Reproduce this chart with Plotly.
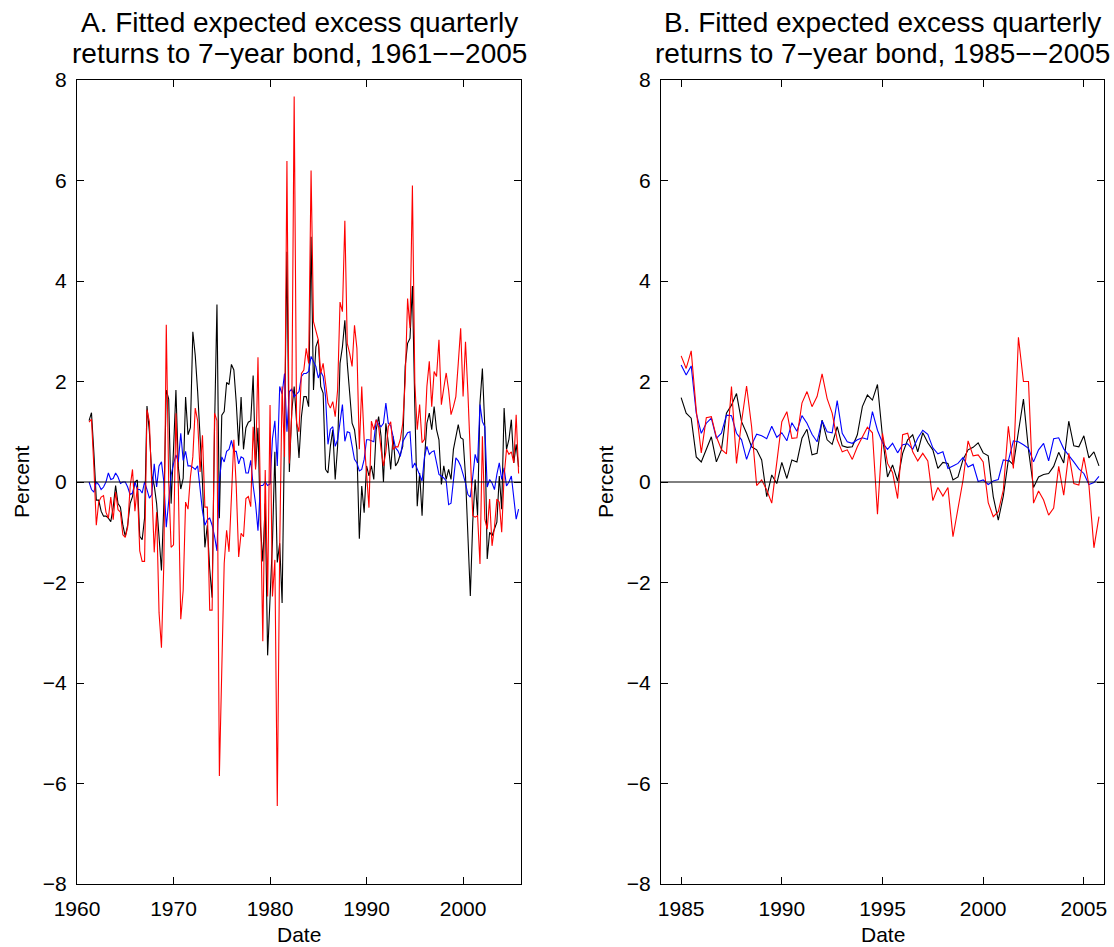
import plotly.graph_objects as go

# ---------------- data ----------------
# Panel A: quarterly, 1961Q2 .. 2005Q4 (decimal year of quarter)
start_a = 1961.25
black_a = [1.22, 1.38, 0.58, -0.36, -0.36, -0.58, -0.68, -0.68, -0.72, -0.79,
           -0.5, -0.07, -0.43, -0.5, -0.86, -1.08, -0.86, -0.43, -0.29, 0.0,
           0.04, -1.08, -1.15, -0.72, 1.51, 1.0, 0.14, -0.07, -0.43, -1.15,
           -1.76, -0.43, 1.83, 1.65, -0.43, 0.65, 1.83, 0.29, -0.14, 0.07,
           1.69, 0.94, 1.08, 2.99, 2.52, 1.8, 0.86, 0.0, -1.3, -0.86,
           -1.73, -2.3, 1.08, 3.53, -0.72, 1.33, 1.4, 1.98, 1.94, 2.34,
           2.23, 1.58, 0.72, 1.69, 0.65, 1.08, 1.19, 1.22, 2.12, 0.29,
           1.08, -0.86, -1.58, -0.43, -3.45, -2.23, -1.19, 0.6, -1.6, -1.22,
           -2.41, 1.0, 4.58, 0.2, 1.4, 1.9, 1.17, 0.48, 1.3, 1.7,
           1.7, 1.5, 4.88, 1.83, 2.69, 2.83, 1.9, 1.77, 0.25, 0.18,
           0.71, 1.04, 0.05, 0.71, 2.36, 2.69, 3.22, 2.36, 1.77, 1.17,
           1.04, 0.65, -1.13, -0.08, -0.61, 0.32, 0.12, 0.32, 0.05, 1.04,
           1.3, 0.91, 0.0, 1.17, 0.78, 0.25, 0.91, 0.32, 0.4, 0.58,
           0.71, 2.3, 2.76, 2.86, 3.9, 1.5, -0.48, 0.18, -0.67, 0.45,
           1.17, 1.37, 1.04, 1.5, 1.04, 0.84, -0.05, 0.32, 0.05, 0.25,
           0.05, 0.65, 0.88, 1.14, 0.88, 0.85, 0.12, -1.13, -2.27, -0.8,
           0.05, -0.67, 1.57, 2.26, 1.1, -1.53, -1.0, -1.07, -0.95, -0.8,
           0.12, -0.54, 1.47, 0.65, 0.85, 1.24, 0.38, 0.75, 0.3]
blue_a = [0.0, -0.15, -0.2, 0.0, -0.05, -0.15, -0.1, 0.0, 0.18, 0.05,
          0.07, 0.18, 0.1, -0.03, 0.0, 0.0, -0.1, -0.25, -0.22, 0.0,
          -0.15, -0.15, -0.22, 0.0, -0.15, -0.32, -0.25, 0.36, -0.1, 0.32,
          0.4, 0.0, -0.9, -0.3, 0.14, 0.36, 0.54, 0.4, 0.97, 0.43,
          0.61, 0.32, 0.32, 0.29, 0.25, 0.32, -0.18, -0.58, -0.86, -0.75,
          -0.72, -0.86, -1.08, -1.37, 0.0, 0.5, 0.4, 0.61, 0.65, 0.83,
          0.61, 0.61, 0.36, 0.5, 0.47, 0.18, 0.18, 0.43, -0.07, -0.43,
          -0.97, -0.07, -0.07, 0.0, -0.07, -0.04, 0.86, 1.22, 0.32, 1.9,
          1.75, 2.16, 1.0, 1.8, 1.85, 1.7, 1.75, 1.8, 2.1, 2.16,
          2.16, 2.2, 2.5, 2.4, 2.3, 2.07, 2.2, 2.1, 1.7, 0.75,
          1.05, 1.1, 0.71, 0.84, 1.2, 1.54, 0.81, 1.0, 0.98, 0.75,
          0.45, 0.38, 0.22, 0.25, 0.45, 0.84, 0.84, 0.82, 0.8, 1.24,
          1.15, 1.1, 1.17, 1.57, 1.17, 1.12, 0.9, 0.68, 0.62, 0.51,
          0.8, 0.9, 0.98, 1.0, 0.28, 0.38, 0.25, 0.12, 0.02, 0.5,
          0.71, 0.55, 0.6, 0.62, 0.4, 0.15, 0.12, 0.08, 0.02, -0.45,
          -0.42, 0.1, 0.48, 0.42, 0.32, 0.15, -0.02, -0.25, -0.3, 0.1,
          0.55, 0.38, 1.54, 1.2, 1.1, -0.1, 0.05, -0.02, -0.15, 0.15,
          0.38, 0.05, 0.28, -0.08, 0.0, 0.12, -0.28, -0.74, -0.54]
red_a = [1.19, 1.25, 0.3, -0.86, -0.4, -0.3, -0.27, -0.6, -0.72, -0.3,
         -0.75, -0.2, -0.55, -0.6, -1.05, -1.1, -0.9, -0.1, 0.25, -0.58,
         -0.1, -1.37, -1.58, -1.58, 1.44, 1.2, -0.1, -1.4, -0.6, -2.6,
         -3.3, -1.6, 3.13, 0.0, -1.3, -1.25, 1.37, -0.1, -2.73, -2.16,
         -0.4, -0.54, 0.1, 0.5, 1.47, 1.22, 0.2, 0.93, -0.5, -0.5,
         -2.55, -2.55, 1.37, 1.22, -5.85, -3.7, -1.62, -0.96, -1.39, -0.3,
         0.84, -0.09, -1.49, -1.02, -1.09, -0.33, -0.29, -0.49, 1.1, 0.25,
         2.48, -0.3, -3.17, 0.24, -2.28, 1.53, -2.28, -1.55, -6.45, -1.3,
         1.9, 0.5, 6.39, 0.37, 1.37, 7.67, 1.17, 1.0, 2.16, 2.23,
         2.66, 2.36, 6.2, 3.19, 3.0, 2.83, 2.16, 2.36, 1.97, 1.57,
         1.47, 1.6, 1.3, 1.83, 3.58, 3.39, 5.2, 2.76, 2.56, 2.3,
         3.12, 2.66, 0.65, 1.9, 0.84, 0.25, -0.51, 1.21, 1.04, 1.24,
         1.1, 0.65, 0.32, 0.6, 1.1, 1.2, 0.65, 0.7, 0.7, 0.85,
         1.17, 2.0, 3.65, 3.06, 5.9, 1.97, 1.04, 1.54, 0.78, 0.85,
         1.9, 2.4, 1.5, 2.2, 2.1, 2.83, 1.54, 1.87, 2.17, 1.83,
         1.34, 1.5, 1.7, 2.36, 3.06, 1.7, 2.79, 1.77, 0.65, -0.67,
         -0.7, -0.67, -1.63, 0.91, -0.74, -0.94, -0.34, -1.27, -0.9, -0.34,
         -0.4, -1.0, 0.12, 0.65, 0.55, 0.6, 0.38, 1.34, 0.17]

# Panel B: quarterly, 1985Q1 .. 2005Q4
start_b = 1985.0
red_b = [2.51, 2.26, 2.61, 1.43, 0.58, 1.28, 1.3, 0.9, 0.65, 0.56,
         1.9, 0.37, 1.2, 1.91, 1.1, -0.07, 0.04, -0.16, -0.42, 0.4,
         1.2, 1.4, 0.87, 0.88, 1.57, 1.8, 1.5, 1.7, 2.15, 1.66,
         1.37, 0.84, 0.6, 0.64, 0.45, 0.7, 0.9, 1.09, 0.98, -0.64,
         0.97, 0.37, 0.19, -0.33, 0.94, 0.97, 0.6, 0.42, 0.57, 0.42,
         -0.37, -0.11, -0.28, -0.11, -1.09, -0.56, 0.04, 0.82, 0.52, 0.54,
         0.4, -0.41, -0.69, -0.59, -0.16, 1.11, 0.27, 2.88, 2.0, 2.0,
         -0.42, -0.18, -0.36, -0.66, -0.52, 0.31, -0.26, 0.57, -0.03, -0.06,
         0.49, -0.06, -1.31, -0.69]
blue_b = [2.33, 2.13, 2.31, 1.37, 0.97, 1.17, 1.27, 0.87, 0.97, 1.33,
          1.32, 0.97, 0.84, 0.45, 0.74, 0.95, 0.92, 0.86, 1.11, 0.89,
          0.98, 0.82, 1.18, 1.01, 1.32, 1.17, 0.95, 0.8, 1.22, 1.0,
          0.98, 1.62, 0.97, 0.8, 0.77, 0.84, 0.88, 0.85, 1.4, 1.03,
          0.78, 0.65, 0.77, 0.58, 0.74, 0.76, 0.65, 0.87, 1.03, 0.95,
          0.68, 0.56, 0.6, 0.27, 0.32, 0.37, 0.49, 0.3, 0.35, 0.01,
          0.04, -0.05, 0.02, 0.05, 0.44, 0.42, 0.82, 0.8, 0.74, 0.67,
          0.4, 0.64, 0.77, 0.42, 0.86, 0.88, 0.66, 0.54, 0.4, 0.26,
          0.17, -0.05, -0.01, 0.11]
black_b = [1.68, 1.37, 1.27, 0.5, 0.4, 0.67, 0.9, 0.4, 0.64, 1.37,
           1.53, 1.76, 1.2, 0.97, 0.7, 0.64, 0.44, -0.29, 0.14, -0.03,
           0.39, 0.07, 0.44, 0.4, 0.87, 1.05, 0.54, 0.57, 1.23, 0.84,
           0.75, 1.1, 0.72, 0.69, 0.7, 0.94, 1.5, 1.73, 1.63, 1.94,
           0.9, 0.1, 0.34, 0.02, 0.57, 0.84, 0.94, 0.6, 0.98, 0.78,
           0.64, 0.27, 0.39, 0.37, 0.04, 0.1, 0.45, 0.64, 0.69, 0.78,
           0.58, 0.52, -0.29, -0.76, -0.28, 0.44, 0.34, 1.0, 1.65, 0.64,
           -0.11, 0.1, 0.15, 0.17, 0.31, 0.59, 0.38, 1.21, 0.72, 0.7,
           0.92, 0.48, 0.6, 0.32]

y_ticks = [-8, -6, -4, -2, 0, 2, 4, 6, 8]
x_ticks_a = [1960, 1970, 1980, 1990, 2000]
x_ticks_b = [1985, 1990, 1995, 2000, 2005]
title_a = ["A. Fitted expected excess quarterly", "returns to 7\u2212year bond, 1961\u2212\u22122005"]
title_b = ["B. Fitted expected excess quarterly", "returns to 7\u2212year bond, 1985\u2212\u22122005"]

dates_a = [start_a + 0.25 * i for i in range(len(red_a))]
dates_b = [start_b + 0.25 * i for i in range(len(red_b))]

# ---------------- figure ----------------
W, H = 1114, 947
FONT = "Liberation Sans, Arial, Helvetica, sans-serif"
LW = 1.1

fig = go.Figure()
for xs, ser, ax in [(dates_a, (black_a, blue_a, red_a), ("x", "y")),
                    (dates_b, (black_b, blue_b, red_b), ("x2", "y2"))]:
    for vals, col in zip(ser, ("#000000", "#0000ff", "#ff0000")):
        fig.add_trace(go.Scatter(x=xs, y=vals, mode="lines",
                                 line=dict(color=col, width=LW),
                                 xaxis=ax[0], yaxis=ax[1],
                                 showlegend=False, hoverinfo="skip"))

def px_x(p):          # page pixel -> paper fraction
    return p / W

def px_y(p):
    return 1 - p / H

dom_a = [px_x(77), px_x(521)]
dom_b = [px_x(661), px_x(1104)]
dom_y = [px_y(884), px_y(80)]

axis_common = dict(showline=True, linecolor="black", linewidth=1, mirror="ticks",
                   ticks="inside", ticklen=7, tickwidth=1, tickcolor="black",
                   showgrid=False, zeroline=False, automargin=False,
                   tickfont=dict(family=FONT, size=21, color="black"))

fig.update_layout(
    template="none",
    width=W, height=H,
    margin=dict(l=0, r=0, t=0, b=0, pad=0),
    paper_bgcolor="white", plot_bgcolor="white",
    font=dict(family=FONT, color="black"),
    xaxis=dict(domain=dom_a, range=[1960, 2006], tickvals=x_ticks_a, anchor="y",
               ticklabelstandoff=6, **axis_common),
    yaxis=dict(domain=dom_y, range=[-8, 8], tickvals=y_ticks, anchor="x",
               ticklabelstandoff=5, **axis_common),
    xaxis2=dict(domain=dom_b, range=[1984, 2006], tickvals=x_ticks_b, anchor="y2",
                ticklabelstandoff=6, **axis_common),
    yaxis2=dict(domain=dom_y, range=[-8, 8], tickvals=y_ticks, anchor="x2",
                ticklabelstandoff=5, **axis_common),
)

# zero lines
for xr, yr in [("x domain", "y"), ("x2 domain", "y2")]:
    fig.add_shape(type="line", xref=xr, yref=yr, x0=0, x1=1, y0=0, y1=0,
                  line=dict(color="black", width=1))

# titles & axis labels
for dom, tl in [(dom_a, title_a), (dom_b, title_b)]:
    cx = (dom[0] + dom[1]) / 2
    fig.add_annotation(text=tl[0], x=cx, y=px_y(23), xref="paper", yref="paper",
                       showarrow=False, xanchor="center", yanchor="middle",
                       font=dict(family=FONT, size=28, color="black"))
    fig.add_annotation(text=tl[1], x=cx, y=px_y(54), xref="paper", yref="paper",
                       showarrow=False, xanchor="center", yanchor="middle",
                       font=dict(family=FONT, size=28, color="black"))
    fig.add_annotation(text="Date", x=cx, y=px_y(934), xref="paper", yref="paper",
                       showarrow=False, xanchor="center", yanchor="middle",
                       font=dict(family=FONT, size=21, color="black"))

for xp in (21, 605):
    fig.add_annotation(text="Percent", x=px_x(xp), y=(dom_y[0] + dom_y[1]) / 2,
                       xref="paper", yref="paper", textangle=-90,
                       showarrow=False, xanchor="center", yanchor="middle",
                       font=dict(family=FONT, size=21, color="black"))

fig.write_html("out.html",
               config={"displayModeBar": False, "staticPlot": True},
               post_script="document.body.style.margin='0';document.body.style.overflow='hidden';")
